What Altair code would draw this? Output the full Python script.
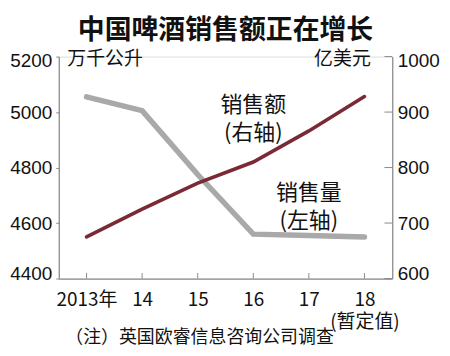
import altair as alt
import pandas as pd

years = [2013, 2014, 2015, 2016, 2017, 2018]
volume = [5055, 5005, 4775, 4560, 4555, 4550]   # 销售量 (左轴, 万千公升)
sales = [675, 725, 772, 810, 866, 928]          # 销售额 (右轴, 亿美元)

left_ticks = [4400, 4600, 4800, 5000, 5200]
right_ticks = [600, 700, 800, 900, 1000]

ann_left = {"t": "销售量\n(左轴)", "year": 2017, "v": 4708}
ann_right = {"t": "销售额\n(右轴)", "year": 2016, "v": 912}

CJK = "Noto Sans CJK SC"
NUM = "Liberation Sans"
AX = "#8a8a8a"

df_vol = pd.DataFrame({"year": years, "v": volume})
df_sal = pd.DataFrame({"year": years, "v": sales})
df_bt = pd.DataFrame({"year": years, "v": [4400] * 6, "v2": [4420] * 6})
df_rt = pd.DataFrame({"year": [2018.5] * 5, "year2": [2018.36] * 5, "v": right_ticks})

xscale = alt.Scale(domain=[2012.5, 2018.5], nice=False, zero=False)
xenc = alt.X(
    "year:Q",
    scale=xscale,
    axis=alt.Axis(
        values=years,
        labelExpr="datum.value == 2013 ? '2013年' : (datum.value == 2018 ? ['18', '(暂定值)'] : '' + (datum.value - 2000))",
        labelFont=CJK, labelFontSize=19, labelColor="#111", labelPadding=12,
        labelOverlap=False, labelLineHeight=22,
        ticks=False, domainColor=AX, domainWidth=1.2, grid=False,
        title="（注）英国欧睿信息咨询公司调查", titleFont=CJK, titleFontSize=18,
        titleFontWeight="normal", titleColor="#111",
        titleX=6, titleY=59, titleAlign="left", titleBaseline="middle", titleAnchor="start",
    ),
)
xplain = alt.X("year:Q", scale=xscale)

yleft_scale = alt.Scale(domain=[4400, 5200], nice=False, zero=False)
yright_scale = alt.Scale(domain=[600, 1000], nice=False, zero=False)

yleft = alt.Y(
    "v:Q", scale=yleft_scale,
    axis=alt.Axis(
        orient="left", values=left_ticks, format="d", grid=False,
        labelFont=NUM, labelFontSize=19, labelColor="#111", labelPadding=4,
        labelFlush=True, labelFlushOffset=5, tickSize=3, tickColor=AX,
        domainColor=AX, domainWidth=1.2,
        title="万千公升", titleFont=CJK, titleFontSize=19, titleFontWeight="normal",
        titleColor="#111", titleAngle=0, titleX=8, titleY=2,
        titleAlign="left", titleBaseline="middle",
    ),
)
yright = alt.Y(
    "v:Q", scale=yright_scale,
    axis=alt.Axis(
        orient="right", values=right_ticks, format="d", grid=False,
        labelFont=NUM, labelFontSize=19, labelColor="#111", labelPadding=5,
        labelFlush=True, labelFlushOffset=5, ticks=False,
        domainColor=AX, domainWidth=1.2,
        title="亿美元", titleFont=CJK, titleFontSize=19, titleFontWeight="normal",
        titleColor="#111", titleAngle=0, titleX=-22, titleY=2,
        titleAlign="right", titleBaseline="middle",
    ),
)

gray_line = alt.Chart(df_vol).mark_line(color="#a9a9a9", strokeWidth=5.5, strokeCap="round").encode(x=xenc, y=yleft)
bottom_ticks = alt.Chart(df_bt).mark_rule(color=AX, strokeWidth=1).encode(
    x=xplain, y=alt.Y("v:Q", scale=yleft_scale, axis=None), y2="v2:Q")
left_text = alt.Chart(pd.DataFrame([ann_left])).mark_text(
    font=CJK, fontSize=22, lineBreak="\n", lineHeight=28, align="center", baseline="middle", color="#111"
).encode(x=xplain, y=alt.Y("v:Q", scale=yleft_scale, axis=None), text="t:N")

red_line = alt.Chart(df_sal).mark_line(color="#7a2a35", strokeWidth=3.6, strokeCap="round").encode(x=xplain, y=yright)
right_ticks_l = alt.Chart(df_rt).mark_rule(color=AX, strokeWidth=1).encode(
    x=xplain, x2="year2:Q", y=alt.Y("v:Q", scale=yright_scale, axis=None))
right_text = alt.Chart(pd.DataFrame([ann_right])).mark_text(
    font=CJK, fontSize=22, lineBreak="\n", lineHeight=28, align="center", baseline="middle", color="#111"
).encode(x=xplain, y=alt.Y("v:Q", scale=yright_scale, axis=None), text="t:N")

chart = alt.layer(
    gray_line, bottom_ticks, left_text, red_line, right_ticks_l, right_text
).resolve_scale(y="independent").properties(
    width=335, height=223,
    autosize=alt.AutoSizeParams(type="none"),
    padding={"left": 51, "top": 48, "right": 50, "bottom": 75},
    title=alt.TitleParams(
        "中国啤酒销售额正在增长", font=CJK, fontSize=27, fontWeight="bold",
        color="#111", anchor="middle", frame="group", offset=5,
    ),
).configure_view(stroke=None).configure(background="white")

chart.save("out.html", embed_options={"renderer": "svg", "actions": False})
